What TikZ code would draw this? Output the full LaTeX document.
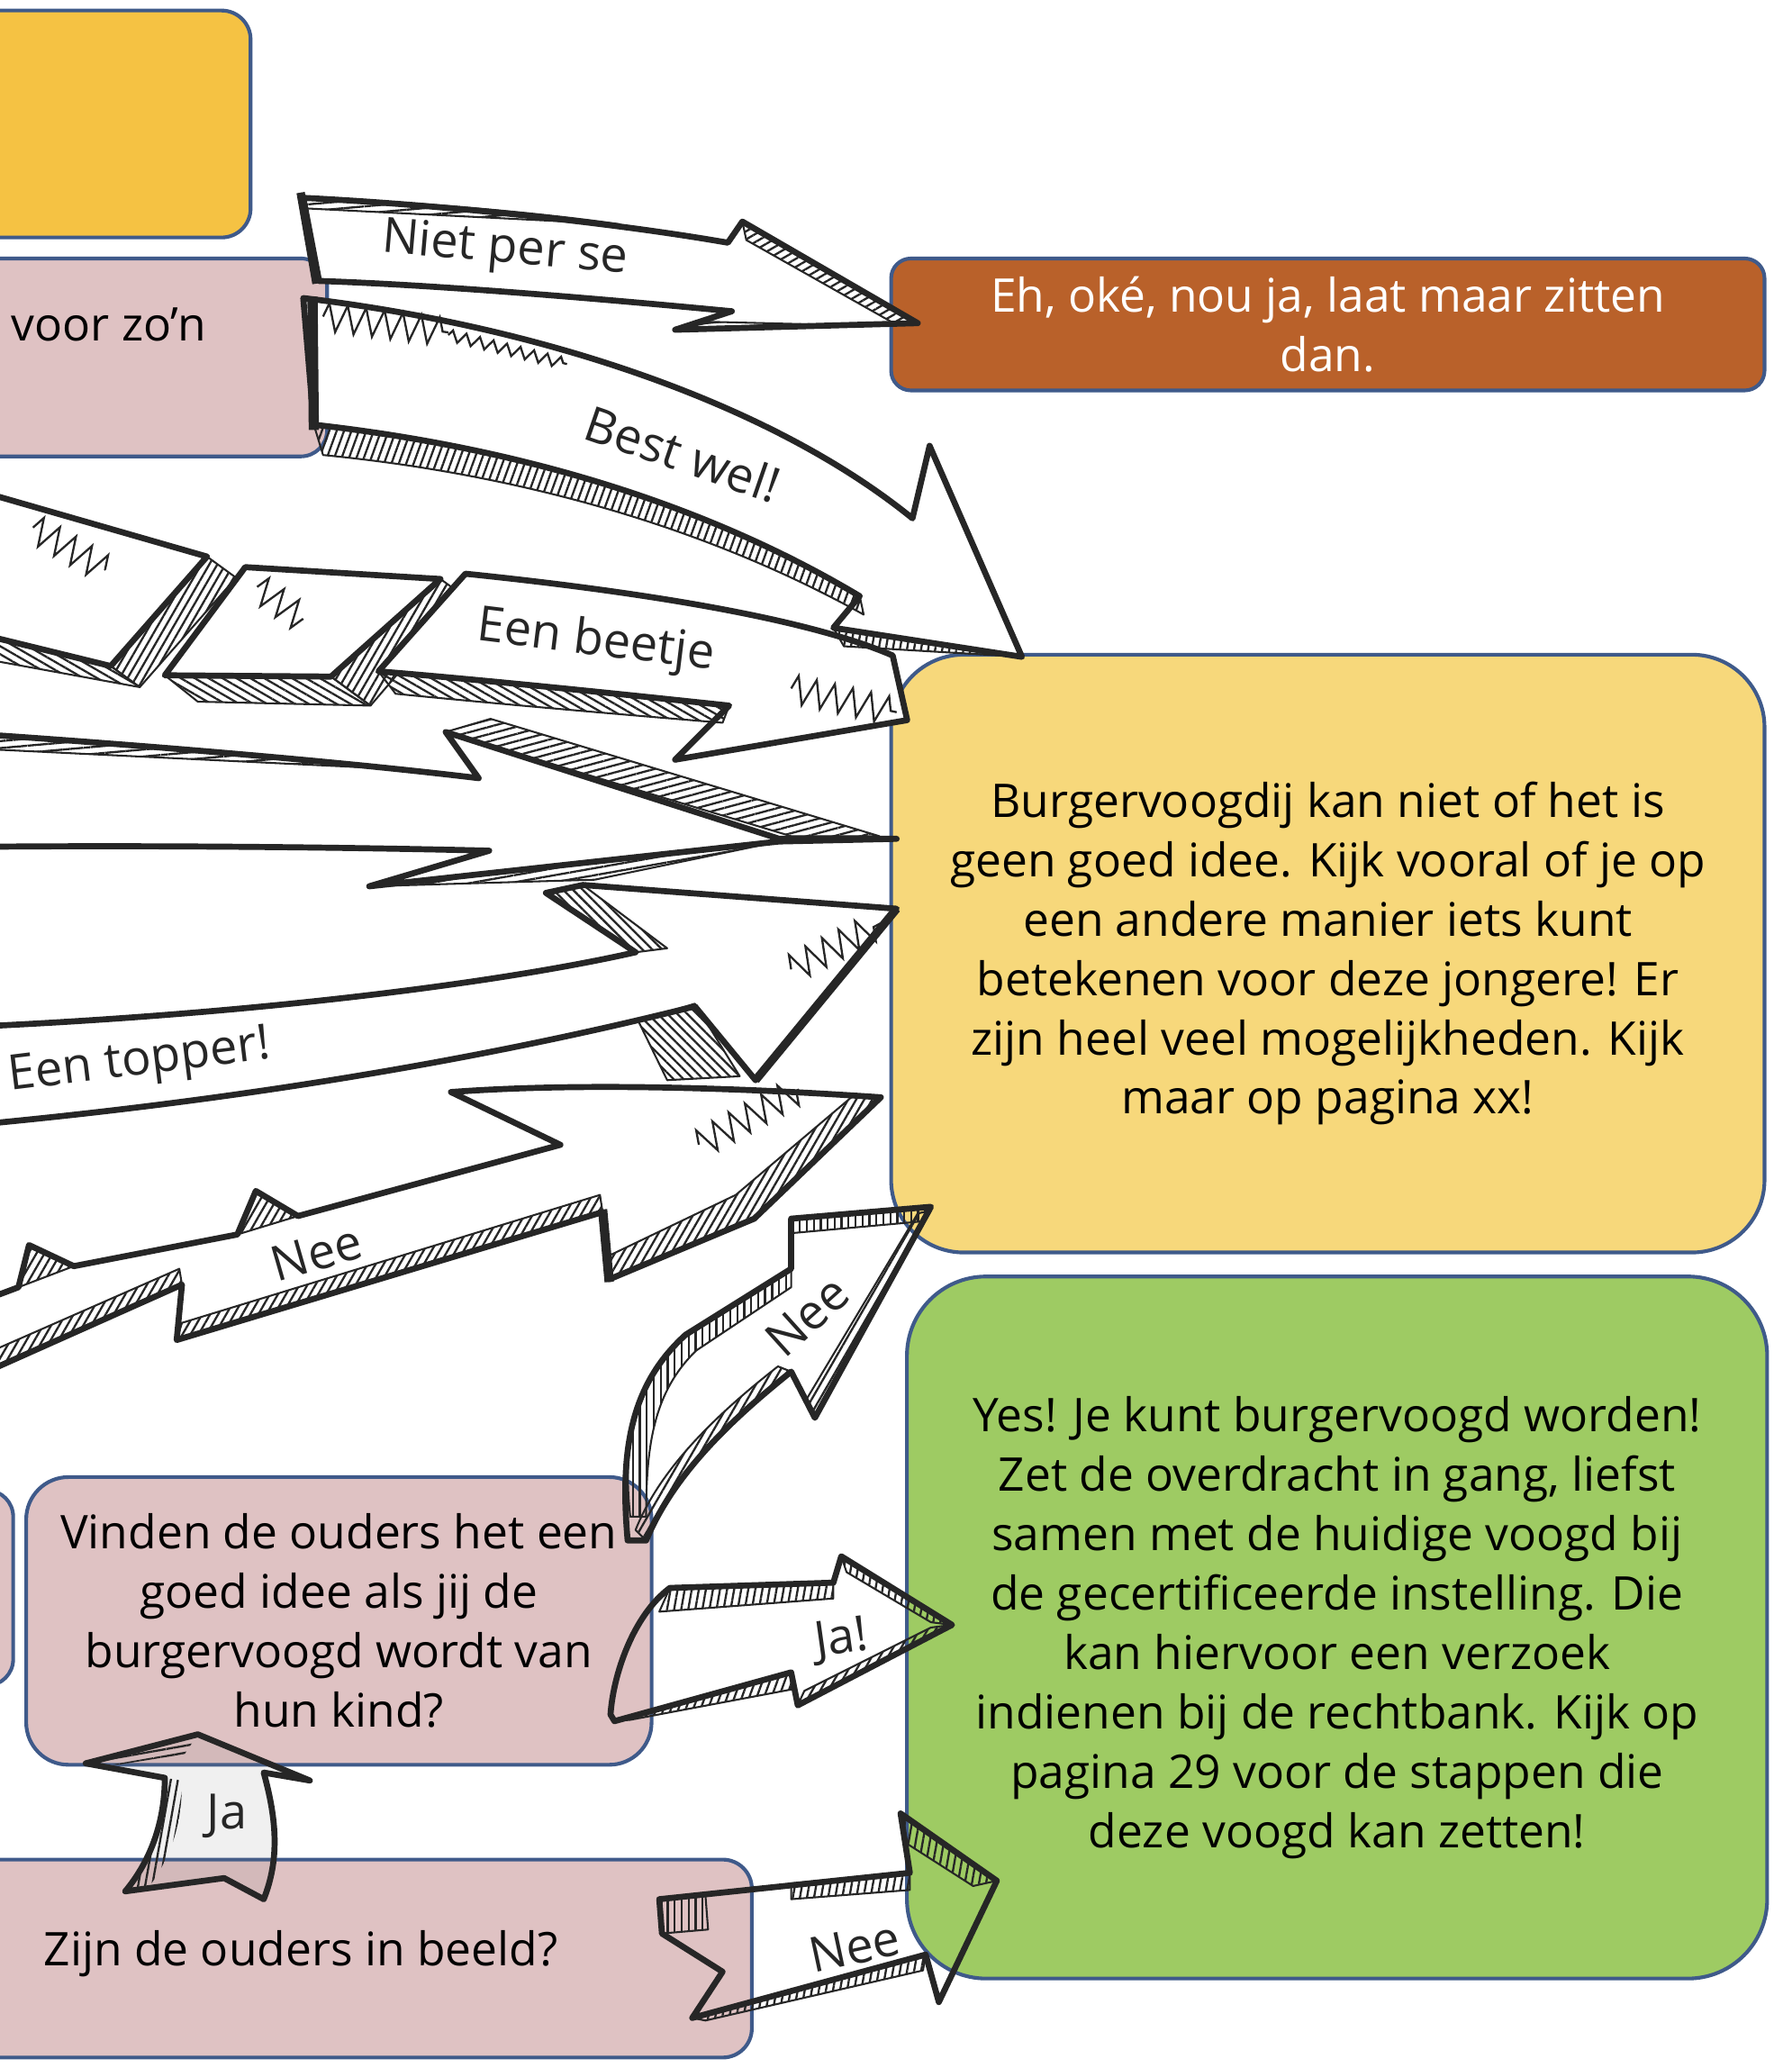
\documentclass[tikz,border=0pt]{standalone}
\usepackage{fontspec}
\setmainfont{Open Sans}
\usetikzlibrary{patterns.meta,decorations.pathmorphing}
\definecolor{bordc}{HTML}{3F5A8A}
\definecolor{ink}{HTML}{262626}
\definecolor{pinkc}{HTML}{DFC2C3}
\definecolor{goldc}{HTML}{F5C243}
\definecolor{brownc}{HTML}{B9612A}
\definecolor{yelc}{HTML}{F7D87B}
\definecolor{greenc}{HTML}{9ECB63}
\newcommand\boxfont{\fontsize{10}{12.8}\selectfont}
\newcommand\lblfont{\fontsize{10.5}{12}\selectfont}
\tikzset{
  box/.style={draw=bordc, line width=0.8pt, rectangle, inner sep=0pt, align=center, font=\boxfont},
  txt/.style={inner sep=0pt, align=center, font=\boxfont},
  lbl/.style={inner sep=0pt, font=\lblfont, text=ink},
  sk/.style={draw=ink, line width=1.3pt, line join=round, fill=white},
  skn/.style={draw=ink, line width=1.3pt, line join=round},
  hatch/.style={draw=ink, line width=0.4pt, line join=round, pattern={Lines[angle=#1,distance=1.5pt,line width=0.45pt]}, pattern color=ink},
  squig/.style={draw=ink, line width=0.45pt, decorate, decoration={zigzag, segment length=4pt, amplitude=3pt}},
}
\begin{document}
\begin{tikzpicture}[x=0.01cm, y=-0.01cm]
\useasboundingbox (0,0) rectangle (1359,1568);
\clip (0,0) rectangle (1359,1568);

% ---------- boxes ----------
\node[box, fill=goldc, minimum width=2.2cm, minimum height=1.72cm, rounded corners=0.22cm] (b1) at (80,94) {};
\node[box, fill=pinkc, minimum width=2.78cm, minimum height=1.5cm, rounded corners=0.2cm] (b2) at (109,271) {};
\node[txt, anchor=west] (t2) at (8,246) {voor zo’n};
\node[box, fill=brownc, text=white, minimum width=6.62cm, minimum height=1.0cm, rounded corners=0.15cm] (b3) at (1007,246)
  {Eh, oké, nou ja, laat maar zitten\\dan.};
\node[box, fill=yelc, minimum width=6.62cm, minimum height=4.53cm, rounded corners=0.55cm] (b4) at (1007,723)
  {Burgervoogdij kan niet of het is\\geen goed idee. Kijk vooral of je op\\een andere manier iets kunt\\betekenen voor deze jongere! Er\\zijn heel veel mogelijkheden. Kijk\\maar op pagina xx!};
\node[box, fill=greenc, minimum width=6.52cm, minimum height=5.32cm, rounded corners=0.6cm] (b5) at (1014,1234)
  {Yes! Je kunt burgervoogd worden!\\Zet de overdracht in gang, liefst\\samen met de huidige voogd bij\\de gecertificeerde instelling. Die\\kan hiervoor een verzoek\\indienen bij de rechtbank. Kijk op\\pagina 29 voor de stappen die\\deze voogd kan zetten!};
\node[box, fill=pinkc, minimum width=0.4cm, minimum height=1.48cm, rounded corners=0.2cm] (b6) at (-10,1204) {};
\node[box, fill=pinkc, minimum width=4.74cm, minimum height=2.18cm, rounded corners=0.32cm] (b7) at (257,1229)
  {Vinden de ouders het een\\goed idee als jij de\\burgervoogd wordt van\\hun kind?};
\node[box, fill=pinkc, minimum width=6.0cm, minimum height=1.5cm, rounded corners=0.22cm] (b8) at (270,1485) {};
\node[txt] (t8) at (228,1481) {Zijn de ouders in beeld?};

% ---------- Nee (1) ----------
\path[sk] (-10,985) -- (14,976) -- (22,944) -- (56,960) -- (180,936) -- (194,903) -- (226,922) -- (425,868) -- (342,828)
  .. controls (450,820) and (580,826) .. (668,832) -- (572,924) -- (462,970) -- (457,919) -- (134,1016) -- (138,974) -- (-10,1040) -- cycle;
\path[hatch=60] (14,976) -- (22,944) -- (56,960) -- cycle;
\path[hatch=60] (180,936) -- (194,903) -- (226,922) -- cycle;
\path[hatch=60] (134,1016) -- (457,919) -- (455,906) -- (138,1003) -- cycle;
\path[hatch=60] (-10,1040) -- (138,974) -- (136,962) -- (-10,1026) -- cycle;
\path[hatch=60] (462,970) -- (572,924) -- (668,832) -- (648,830) -- (558,906) -- (462,952) -- cycle;
\draw[ink, line width=2pt] (457,917) -- (462,972);
\draw[squig] (530,868) -- (606,826);

% ---------- Een topper! ----------
\path[sk] (-10,778) .. controls (200,768) and (380,745) .. (482,722) -- (414,677) -- (442,671) -- (680,689) -- (573,819) -- (527,763)
  .. controls (380,800) and (200,832) .. (-10,852) -- cycle;
\path[hatch=-45] (414,677) -- (442,671) -- (506,719) -- (482,722) -- cycle;
\path[hatch=-45] (484,774) -- (527,761) -- (561,816) -- (506,819) -- cycle;
\draw[squig] (600,735) -- (668,700);
\draw[ink, line width=1.8pt] (573,819) -- (680,689);

% ---------- unlabeled big arrow ----------
\path[sk] (-10,557) .. controls (150,568) and (280,580) .. (363,590) -- (338,555) -- (591,636) -- (680,636) -- (591,638) -- (280,672) -- (371,645)
  .. controls (250,642) and (100,641) .. (-10,642) -- cycle;
\path[hatch=15] (338,555) -- (372,545) -- (667,634) -- (600,634) -- cycle;
\path[hatch=5] (-10,557) .. controls (100,565) and (200,574) .. (300,583) -- (-10,568) -- cycle;
\path[hatch=10] (280,672) -- (591,638) -- (451,667) -- cycle;

% ---------- Een beetje (segmented) ----------
\path[sk] (-10,374) -- (157,422) -- (84,505) -- (-10,482) -- cycle;
\path[hatch=60] (157,422) -- (179,438) -- (106,521) -- (84,505) -- cycle;
\path[hatch=-30] (-10,482) -- (84,505) -- (106,521) -- (-10,500) -- cycle;
\draw[squig] (25,400) -- (80,432);
\path[sk] (186,430) -- (334,439) -- (251,513) -- (125,512) -- cycle;
\path[hatch=60] (334,439) -- (352,452) -- (281,535) -- (251,513) -- cycle;
\path[hatch=-30] (125,512) -- (251,513) -- (281,535) -- (150,532) -- cycle;
\draw[squig] (195,445) -- (230,470);
\path[sk] (353,435) .. controls (480,448) and (610,468) .. (677,497) -- (688,546) -- (512,576) -- (553,535)
  .. controls (450,524) and (360,515) .. (287,509) -- cycle;
\path[hatch=-30] (287,509) .. controls (360,515) and (450,524) .. (553,535) -- (548,548) .. controls (450,540) and (360,532) .. (300,526) -- cycle;
\draw[squig] (600,522) -- (680,540);

% ---------- Best wel! ----------
\path[sk] (230,226) .. controls (400,246) and (580,302) .. (692,393) -- (705,338) -- (775,498) -- (632,476) -- (652,452)
  .. controls (540,385) and (400,340) .. (238,322) -- cycle;
\path[hatch=70] (238,322) .. controls (400,340) and (540,385) .. (652,452) -- (655,466) .. controls (540,402) and (400,360) .. (245,345) -- cycle;
\path[hatch=80] (632,476) -- (775,498) -- (640,490) -- cycle;
\draw[ink, line width=2.2pt] (237,225) -- (238,326);
\draw[squig] (245,240) -- (340,252);
\draw[ink, line width=0.45pt, decorate, decoration={zigzag, segment length=3pt, amplitude=1.2pt}] (340,254) -- (430,276);

% ---------- Niet per se ----------
\path[sk] (230,150) .. controls (330,155) and (460,168) .. (552,184) -- (563,168) -- (696,245) -- (512,250) -- (555,236)
  .. controls (450,226) and (330,216) .. (242,213) -- cycle;
\path[hatch=30] (563,168) -- (696,245) -- (676,244) -- (566,182) -- cycle;
\path[hatch=5] (230,150) .. controls (300,152) and (400,160) .. (470,170) -- (232,158) -- cycle;
\path[hatch=5] (512,250) -- (620,246) -- (540,244) -- cycle;
\draw[ink, line width=1.8pt] (228,146) -- (240,215);

% ---------- Nee (2) ----------
\path[skn] (476,1168) .. controls (470,1100) and (478,1050) .. (520,1012) -- (600,962) -- (600,924) -- (706,915) -- (618,1075) -- (600,1040)
  .. controls (550,1080) and (510,1120) .. (490,1168) -- cycle;
\path[hatch=90] (478,1150) .. controls (472,1095) and (480,1052) .. (520,1012) -- (600,962) -- (600,976) -- (528,1024) .. controls (496,1055) and (490,1095) .. (490,1150) -- cycle;
\path[hatch=60] (490,1168) .. controls (510,1120) and (550,1080) .. (600,1040) -- (590,1036) .. controls (540,1075) and (500,1115) .. (482,1160) -- cycle;
\path[hatch=60] (618,1075) -- (706,918) -- (696,920) -- (611,1062) -- cycle;
\path[hatch=90] (600,924) -- (706,915) -- (700,926) -- (600,935) -- cycle;

% ---------- Ja! ----------
\path[skn] (463,1300) .. controls (465,1270) and (480,1225) .. (508,1204) -- (632,1200) -- (638,1180) -- (722,1232) -- (605,1293) -- (600,1268) -- (466,1305) -- cycle;
\path[hatch=80] (508,1204) -- (632,1200) -- (632,1212) -- (500,1222) -- cycle;
\path[hatch=70] (466,1305) -- (600,1268) -- (600,1281) -- (478,1304) -- cycle;
\path[hatch=60] (605,1293) -- (722,1232) -- (706,1234) -- (610,1282) -- cycle;
\path[hatch=80] (638,1180) -- (722,1232) -- (706,1230) -- (642,1192) -- cycle;

% ---------- Ja ----------
\path[skn, fill=gray, fill opacity=0.12] (65,1337) -- (150,1315) -- (235,1350) -- (200,1344) .. controls (210,1380) and (212,1410) .. (200,1440)
  -- (170,1424) -- (95,1434) .. controls (115,1410) and (125,1380) .. (125,1348) -- cycle;
\path[hatch=80, draw=none] (125,1348) .. controls (125,1380) and (115,1410) .. (95,1434) -- (112,1432) .. controls (132,1405) and (138,1380) .. (138,1350) -- cycle;
\path[hatch=10, draw=none] (65,1337) -- (150,1315) -- (140,1330) -- (90,1338) -- cycle;

% ---------- Nee (3) ----------
\path[skn] (500,1440) -- (690,1420) -- (683,1375) -- (756,1426) -- (712,1518) -- (702,1482) -- (525,1530) -- (548,1495) -- (502,1466) -- cycle;
\path[hatch=80] (683,1375) -- (756,1426) -- (738,1430) -- (688,1398) -- cycle;
\path[hatch=90] (500,1440) -- (535,1437) -- (537,1463) -- (502,1466) -- cycle;
\path[hatch=80] (525,1530) -- (702,1482) -- (700,1494) -- (535,1532) -- cycle;
\path[hatch=80] (600,1428) -- (690,1420) -- (690,1433) -- (600,1440) -- cycle;

% ---------- labels ----------
\node[lbl, rotate=-5] (lnps) at (383,190) {Niet per se};
\node[lbl, rotate=-19] (lbw) at (518,344) {Best wel!};
\node[lbl, rotate=-7] (leb) at (452,487) {Een beetje};
\node[lbl, rotate=7] (ltop) at (106,806) {Een topper!};
\node[lbl, rotate=16] (lnee1) at (240,950) {Nee};
\node[lbl, rotate=42] (lnee2) at (612,998) {Nee};
\node[lbl, rotate=8] (lja1) at (638,1244) {Ja!};
\node[lbl] (lja2) at (172,1377) {Ja};
\node[lbl, rotate=12] (lnee3) at (648,1476) {Nee};
\end{tikzpicture}
\end{document}
